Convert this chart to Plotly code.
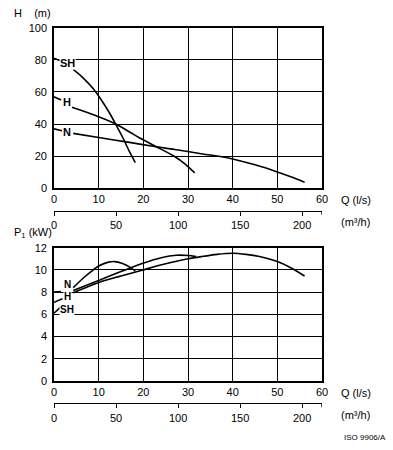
import plotly.graph_objects as go

# ---------------- data ----------------
q_ticks = [0, 10, 20, 30, 40, 50, 60]
m3h_ticks = [0, 50, 100, 150, 200]
h_ticks = [0, 20, 40, 60, 80, 100]
p_ticks = [0, 2, 4, 6, 8, 10, 12]

# Head curves H (m) vs Q (l/s)
sh_q_head = [4.3, 6.5, 8.7, 10.6, 12.3, 13.8, 15.5, 16.9, 18.2]
sh_head = [74, 68.8, 62.3, 55, 47.5, 40, 31.0, 22.8, 16]
h_q_head = [4.0, 9.0, 13.8, 17.0, 19.2, 22.9, 27.0, 29.3, 31.5]
h_head = [50.4, 45.6, 40, 34.9, 31.3, 25.9, 19.8, 15.2, 9.6]
n_q_head = [4.3, 10, 16.9, 22.5, 27, 32.6, 39.3, 45, 50, 53, 56.1]
n_head = [34.2, 31.6, 28.6, 26.0, 24.2, 21.7, 18.7, 14.6, 10.2, 7.2, 3.8]

# Head leaders (shut-off values to labels)
sh_lead_q = [0, 1.3]; sh_lead_h = [81, 79.5]
h_lead_q = [0, 1.6]; h_lead_h = [57, 55]
n_lead_q = [0, 1.8]; n_lead_h = [37, 35.8]

# Power curves P1 (kW) vs Q (l/s)
sh_q_pow = [4.3, 6.5, 8.3, 10, 12, 13.6, 15.2, 16.8, 18.2]
sh_pow = [8.4, 9.25, 9.85, 10.35, 10.68, 10.75, 10.6, 10.3, 9.9]
h_q_pow = [4.3, 10, 15, 19.9, 24, 27.4, 30, 31.8]
h_pow = [8.15, 9.05, 9.85, 10.6, 11.1, 11.32, 11.3, 11.2]
n_q_pow = [4.3, 10.2, 15, 19.9, 25, 30, 33, 36.5, 40, 43, 46, 50, 53, 56.1]
n_pow = [7.95, 8.9, 9.45, 10.0, 10.55, 11.0, 11.2, 11.4, 11.5, 11.4, 11.2, 10.75, 10.2, 9.45]

# Power leaders
sh_lead_pq = [0, 1.6]; sh_lead_p = [6.1, 6.7]
h_lead_pq = [0, 1.9]; h_lead_p = [7.08, 7.4]
n_lead_pq = [0, 1.6]; n_lead_p = [8.0, 8.05]

# curve labels: (text, q, value)
head_labels = [("SH", 3.0, 78), ("H", 3.0, 53.6), ("N", 3.0, 35.2)]
pow_labels = [("N", 3.1, 8.65), ("H", 3.07, 7.65), ("SH", 2.95, 6.45)]

LS_TO_M3H = 3.6
Q_MAX = 60

# ---------------- layout geometry ----------------
W, H = 393, 450
L, R, T, B = 54, 71, 20, 30
PH = H - T - B
PW = W - L - R


def py2p(py):
    return (H - B - py) / PH


def px2p(px):
    return (px - L) / PW


FONT = "Liberation Sans, Arial, sans-serif"
LINE = dict(color="black", width=1.6)

fig = go.Figure()


def add_curve(x, y, xa, ya):
    fig.add_trace(go.Scatter(x=x, y=y, mode="lines", line=dict(LINE, shape="spline", smoothing=0.8),
                             xaxis=xa, yaxis=ya, showlegend=False, hoverinfo="skip"))


for xs, ys in [(sh_q_head, sh_head), (h_q_head, h_head), (n_q_head, n_head),
               (sh_lead_q, sh_lead_h), (h_lead_q, h_lead_h), (n_lead_q, n_lead_h)]:
    add_curve(xs, ys, "x", "y")
for xs, ys in [(sh_q_pow, sh_pow), (h_q_pow, h_pow), (n_q_pow, n_pow),
               (sh_lead_pq, sh_lead_p), (h_lead_pq, h_lead_p), (n_lead_pq, n_lead_p)]:
    add_curve(xs, ys, "x2", "y2")

# invisible traces to activate m3/h axes
fig.add_trace(go.Scatter(x=[0, Q_MAX * LS_TO_M3H], y=[0, 0], mode="none", xaxis="x3", yaxis="y",
                         showlegend=False, hoverinfo="skip"))
fig.add_trace(go.Scatter(x=[0, Q_MAX * LS_TO_M3H], y=[0, 0], mode="none", xaxis="x4", yaxis="y2",
                         showlegend=False, hoverinfo="skip"))

main_axis = dict(showline=True, mirror=True, linecolor="black", linewidth=1.6,
                 showgrid=True, gridcolor="black", gridwidth=1.3, zeroline=False,
                 ticks="", tickfont=dict(size=11, color="black", family=FONT))

top_dom = [py2p(188.3), py2p(27.7)]
bot_dom = [py2p(381), py2p(247.7)]

m3h_axis = dict(range=[0, Q_MAX * LS_TO_M3H], tickvals=m3h_ticks,
                showline=True, linecolor="black",
                linewidth=1.3, ticks="outside", ticklen=4, tickwidth=1.3, tickcolor="black",
                showgrid=False, zeroline=False, anchor="free", side="bottom",
                tickfont=dict(size=11, color="black", family=FONT))

fig.update_layout(
    width=W, height=H, margin=dict(l=L, r=R, t=T, b=B),
    plot_bgcolor="white", paper_bgcolor="white",
    font=dict(family=FONT, color="black", size=11),
    xaxis=dict(main_axis, range=[0, Q_MAX], tickvals=q_ticks, domain=[0, 1], anchor="y"),
    yaxis=dict(main_axis, range=[0, 100], tickvals=h_ticks, domain=top_dom, anchor="x",
               ticklabelstandoff=3),
    xaxis2=dict(main_axis, range=[0, Q_MAX], tickvals=q_ticks, domain=[0, 1], anchor="y2"),
    yaxis2=dict(main_axis, range=[0, 12], tickvals=p_ticks, domain=bot_dom, anchor="x2",
                ticklabelstandoff=3),
    xaxis3=dict(m3h_axis, overlaying="x", position=py2p(210.7)),
    xaxis4=dict(m3h_axis, overlaying="x2", position=py2p(403.3)),
)

# end ticks of the m3/h axes
shapes = []
for xa, pos in [("x3", 210.7), ("x4", 403.3)]:
    shapes.append(dict(type="line", xref=xa, yref="paper", x0=Q_MAX * LS_TO_M3H,
                       x1=Q_MAX * LS_TO_M3H, y0=py2p(pos), y1=py2p(pos + 4),
                       line=dict(color="black", width=1.3)))
fig.update_layout(shapes=shapes)

ann = []
for txt, q, v in head_labels:
    ann.append(dict(text="<b>%s</b>" % txt, x=q, y=v, xref="x", yref="y", showarrow=False,
                    bgcolor="white", borderpad=0, font=dict(size=11, family=FONT)))
for txt, q, v in pow_labels:
    ann.append(dict(text="<b>%s</b>" % txt, x=q, y=v, xref="x2", yref="y2", showarrow=False,
                    bgcolor="white", borderpad=0, font=dict(size=10, family=FONT)))


def paper_text(txt, px, py, size=11):
    ann.append(dict(text=txt, x=px2p(px), y=py2p(py), xref="paper", yref="paper",
                    xanchor="left", yanchor="middle", showarrow=False,
                    font=dict(size=size, family=FONT, color="black")))


paper_text("H&nbsp;&nbsp;&nbsp;&nbsp;(m)", 12, 13)
paper_text("P<sub>1</sub> (kW)", 12, 233)
paper_text("Q (l/s)", 339, 200)
paper_text("(m³/h)", 339, 222)
paper_text("Q (l/s)", 339, 393)
paper_text("(m³/h)", 339, 415)
paper_text("ISO 9906/A", 342, 437, size=8)
fig.update_layout(annotations=ann)

fig.write_html("out.html", config={"displayModeBar": False},
               post_script="document.body.style.margin='0';")
